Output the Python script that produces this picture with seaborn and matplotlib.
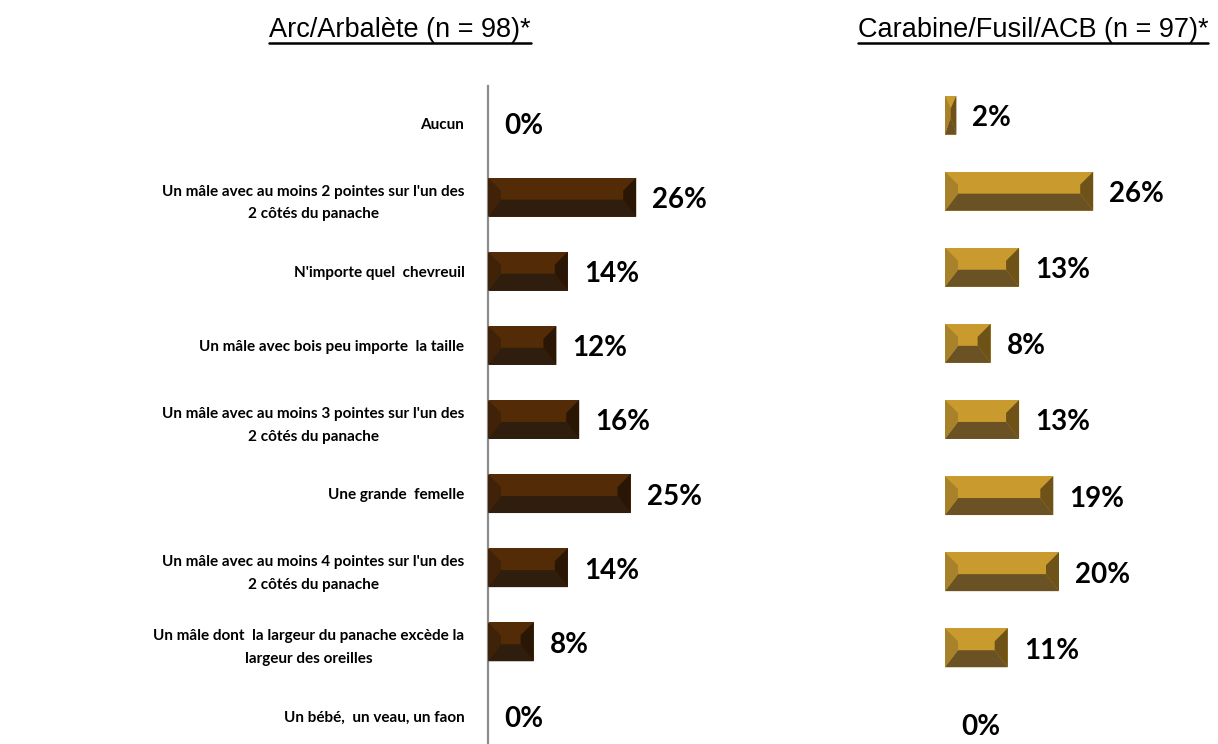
import matplotlib
matplotlib.use("Agg")
import numpy as np
import pandas as pd
import seaborn as sns
from matplotlib import pyplot as plt
from matplotlib.patches import Polygon
from matplotlib.lines import Line2D

categories = [
    "Aucun",
    "Un mâle avec au moins 2 pointes sur l'un des\n2 côtés du panache",
    "N'importe quel  chevreuil",
    "Un mâle avec bois peu importe  la taille",
    "Un mâle avec au moins 3 pointes sur l'un des\n2 côtés du panache",
    "Une grande  femelle",
    "Un mâle avec au moins 4 pointes sur l'un des\n2 côtés du panache",
    "Un mâle dont  la largeur du panache excède la\nlargeur des oreilles",
    "Un bébé,  un veau, un faon",
]
arc_values = [0, 26, 14, 12, 16, 25, 14, 8, 0]
carabine_values = [2, 26, 13, 8, 13, 19, 20, 11, 0]
titles = ["Arc/Arbalète (n = 98)*", "Carabine/Fusil/ACB (n = 97)*"]

# bevel colours: face, bottom, left cap, right cap
ARC_COLORS = ["#532C07", "#2F1D0D", "#3F2208", "#2A1604"]
CAR_COLORS = ["#C99A2E", "#6A5224", "#A8822A", "#6E5218"]

W, H = 1218, 744
sns.set_theme(style="white")
plt.rcParams["font.family"] = ["Lato", "DejaVu Sans"]

fig = plt.figure(figsize=(W / 100, H / 100), dpi=100)


def px_axes(left, top, width, height):
    return fig.add_axes([left / W, 1 - (top + height) / H, width / W, height / H])


def add_bevels(ax, colors, row_px):
    # geometry in pixels, converted to data units
    xu = 40 / 228.0            # data units per px (x)
    yu = 1.0 / row_px          # data units per px (y)
    for p in ax.patches:
        w = p.get_width()
        if w <= 0:
            continue
        x0, x1 = p.get_x(), p.get_x() + w
        yt, yb = p.get_y(), p.get_y() + p.get_height()
        d = min(13 * xu, w / 2)
        ti = yt + 13 * yu
        mid = yt + 22 * yu
        ax.add_patch(Polygon([(x0, yb), (x1, yb), (x1 - d, mid), (x0 + d, mid)],
                             closed=True, fc=colors[1], ec="none", zorder=3))
        ax.add_patch(Polygon([(x0, yt), (x0 + d, ti), (x0 + d, mid), (x0, yb)],
                             closed=True, fc=colors[2], ec="none", zorder=3))
        ax.add_patch(Polygon([(x1, yt), (x1 - d, ti), (x1 - d, mid), (x1, yb)],
                             closed=True, fc=colors[3], ec="none", zorder=3))


def draw_panel(ax, values, colors, row_px, show_labels):
    df = pd.DataFrame({"cat": categories, "val": values})
    bar_w = 39.0 / row_px
    sns.barplot(data=df, x="val", y="cat", orient="h", color=colors[0],
                saturation=1, width=bar_w, ax=ax, zorder=2)
    for p in ax.patches:
        p.set_edgecolor("none")
    ax.set_xlim(0, 40)
    ax.set_ylim(8.5, -0.5)
    add_bevels(ax, colors, row_px)
    for i, v in enumerate(values):
        ax.text(v + 16 * 40 / 228.0, i + 0.04, f"{v}%", va="center", ha="left",
                fontsize=20, fontweight="bold", color="black", zorder=4)
    ax.set_xlabel("")
    ax.set_ylabel("")
    ax.set_xticks([])
    ax.tick_params(axis="y", length=0, pad=17)
    if show_labels:
        for lbl in ax.get_yticklabels():
            lbl.set_fontsize(11)
            lbl.set_fontweight("bold")
            lbl.set_multialignment("center")
            lbl.set_linespacing(1.8)
            lbl.set_color("black")
    else:
        ax.set_yticklabels([])
    for s in ["top", "right", "bottom", "left"]:
        ax.spines[s].set_visible(False)


ax1 = px_axes(488, 86, 228, 9 * 74.1)
draw_panel(ax1, arc_values, ARC_COLORS, 74.1, True)
ax1.spines["left"].set_visible(True)
ax1.spines["left"].set_color("#8C8C8C")
ax1.spines["left"].set_linewidth(1.6)

ax2 = px_axes(945, 77, 228, 9 * 76.1)
draw_panel(ax2, carabine_values, CAR_COLORS, 76.1, False)

# underlined panel titles
title_font = ["Liberation Sans Narrow", "Liberation Sans", "DejaVu Sans"]
renderer = fig.canvas.get_renderer()
for xc, t in zip([400, 1033], titles):
    txt = fig.text(xc / W, 1 - 30 / H, t, ha="center", va="center",
                   fontsize=19.5, family=title_font, color="black")
    bb = txt.get_window_extent(renderer=renderer)
    yline = 1 - 43 / H
    fig.add_artist(Line2D([bb.x0 / W, bb.x1 / W], [yline, yline],
                          color="black", lw=1.8, transform=fig.transFigure))

fig.savefig("out.png", dpi=100)
